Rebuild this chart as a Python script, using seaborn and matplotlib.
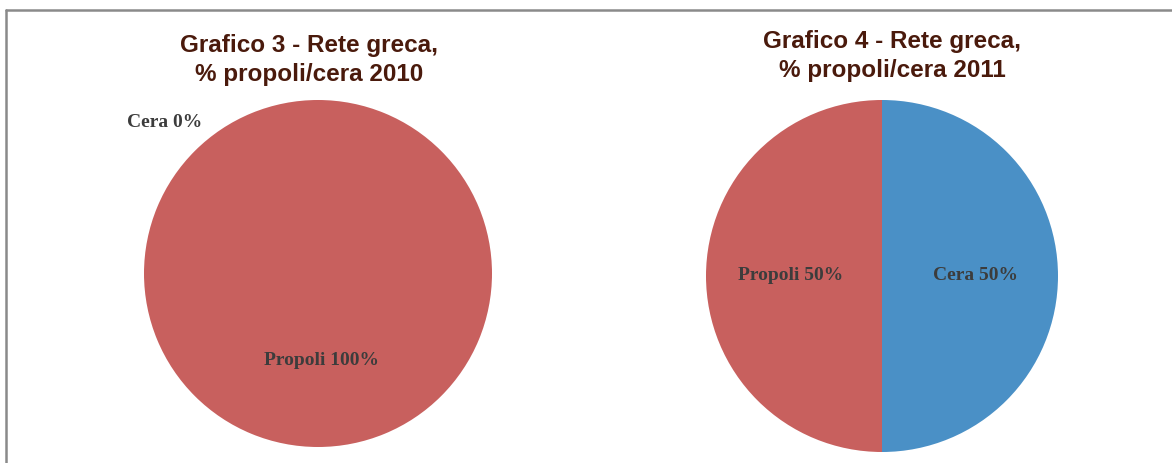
import matplotlib
matplotlib.use("Agg")
import matplotlib.pyplot as plt
from matplotlib.lines import Line2D
import seaborn as sns

# Data
categories = ["Propoli", "Cera"]
values_2010 = [100, 0]
values_2011 = [50, 50]
titles = ["Grafico 3 - Rete greca,\n% propoli/cera 2010",
          "Grafico 4 - Rete greca,\n% propoli/cera 2011"]

sns.set_theme(style="white")
plt.rcParams['font.family'] = ['Liberation Sans', 'DejaVu Sans']

colors = ["#C8605E", "#4A90C6"]

fig = plt.figure(figsize=(11.72, 4.63), dpi=100)
fig.patch.set_facecolor("white")

# frame lines
fig.add_artist(Line2D([6/1172, 1.0], [1 - 10/463, 1 - 10/463], color="#8a8a8a", lw=1.8,
                      transform=fig.transFigure))
fig.add_artist(Line2D([6/1172, 6/1172], [0, 1 - 10/463], color="#8a8a8a", lw=1.8,
                      transform=fig.transFigure))

ax1 = fig.add_axes([144/1172, 16/463, 348/1172, 347/463])
ax2 = fig.add_axes([706/1172, 11/463, 352/1172, 352/463])

label_font = dict(family="Liberation Serif", fontweight="bold", fontsize=14, color="#3c3c3c")

for ax, vals in [(ax1, values_2010), (ax2, values_2011)]:
    ax.pie(vals, colors=colors, startangle=90, counterclock=True,
           wedgeprops=dict(linewidth=0))
    ax.set_xlim(-1, 1)
    ax.set_ylim(-1, 1)
    ax.set_aspect("auto")
    ax.axis("off")

# labels
ax1.text(-0.88, 0.87, f"{categories[1]} {values_2010[1]}%", ha="center", va="center", **label_font)
ax1.text(0.02, -0.5, f"{categories[0]} {values_2010[0]}%", ha="center", va="center", **label_font)
ax2.text(-0.52, 0.0, f"{categories[0]} {values_2011[0]}%", ha="center", va="center", **label_font)
ax2.text(0.53, 0.0, f"{categories[1]} {values_2011[1]}%", ha="center", va="center", **label_font)

title_font = dict(fontsize=17.5, fontweight="bold", color="#4a1a0c", ha="center", va="center",
                  linespacing=1.3)
fig.text(309/1172, 1 - 60/463, titles[0], **title_font)
fig.text(892/1172, 1 - 56/463, titles[1], **title_font)

fig.savefig("out.png", dpi=100, facecolor="white")
